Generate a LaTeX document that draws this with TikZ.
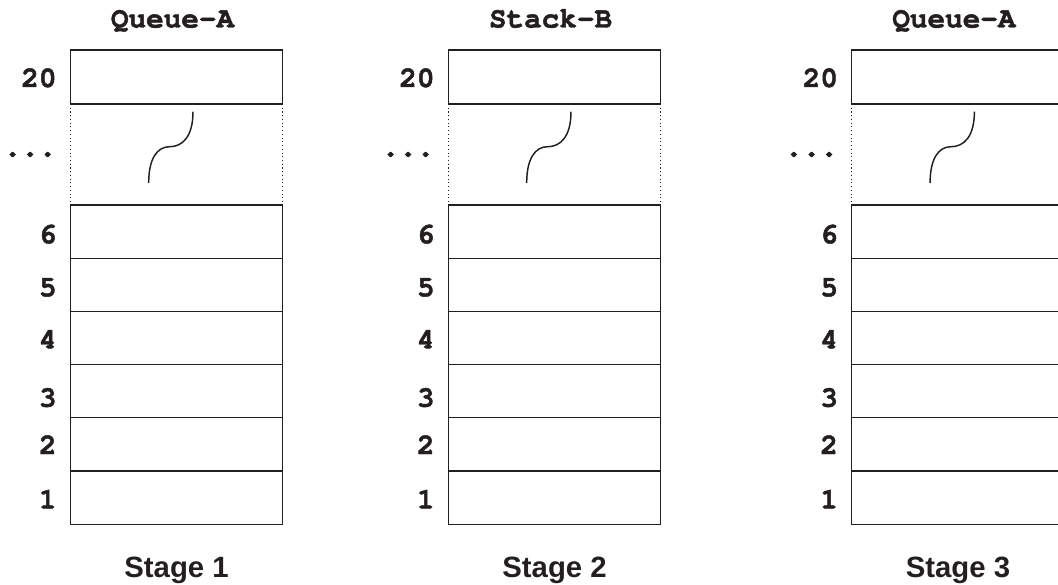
\documentclass[tikz,border=0pt]{standalone}
\usepackage{fontspec}
\setmainfont{Liberation Sans}
\setsansfont{Liberation Sans}
\setmonofont{Liberation Mono}
\newfontfamily\cursorfont[FakeBold=1.6]{TeX Gyre Cursor}
\newfontfamily\cursordotfont[FakeBold=5]{TeX Gyre Cursor}
\newcommand\courierbold{\cursorfont\bfseries\fontsize{22}{22}\selectfont}
\newcommand\courierdots{\cursordotfont\bfseries\fontsize{22}{22}\selectfont}
\definecolor{ink}{RGB}{35,31,32}
\begin{document}
\begin{tikzpicture}[x=0.75pt,y=-0.75pt,
  cell/.style={draw=ink,line width=0.9pt,minimum width=159.4pt,minimum height=39.9pt,inner sep=0pt,outer sep=0pt},
  topcell/.style={draw=ink,line width=0.9pt,minimum width=159.4pt,minimum height=40.5pt,inner sep=0pt,outer sep=0pt},
  gapcell/.style={minimum width=159.4pt,minimum height=75.75pt,inner sep=0pt,outer sep=0pt},
  num/.style={font=\courierbold,text=ink,anchor=base east,inner sep=0pt},
  dotlabel/.style={font=\courierdots,text=ink,anchor=base east,inner sep=0pt},
  title/.style={font=\courierbold,text=ink,anchor=base,inner sep=0pt},
  stage/.style={font=\sffamily\bfseries\fontsize{22}{22}\selectfont,text=ink,anchor=base,inner sep=0pt},
  dots/.style={draw=ink,line width=0.8pt,dotted},
  wave/.style={draw=ink,line width=1.1pt}
]
\useasboundingbox (0,0) rectangle (1058,585);
\clip (0,0) rectangle (1058,585);
\foreach \i/\L/\T/\S in {1/70.3/Queue-A/Stage 1, 2/448.3/Stack-B/Stage 2, 3/851.7/Queue-A/Stage 3}{
  \node[title] (t\i) at ({\L+102.25},27.5) {\T};
  \node[topcell] (c\i top) at ({\L+106.25},77) {};
  \node[num] (n\i top) at ({\L-13.5},87) {20};
  \node[gapcell] (c\i g) at ({\L+106.25},154.5) {};
  \node[dotlabel] (n\i g) at ({\L-13.5},156) {...};
  \foreach \k/\b in {6/243.3,5/296.3,4/348.3,3/406.7,2/454,1/508.5}{
    \node[cell] (c\i r\k) at ({\L+106.25},{205+26.6+(6-\k)*53.2}) {};
    \node[num] (n\i r\k) at ({\L-13.5},\b) {\k};
  }
  \draw[dots] (c\i top.south west) -- (c\i r6.north west);
  \draw[dots] (c\i top.south east) -- (c\i r6.north east);
  \draw[wave,shift={(c\i g.center)}] (-27.85,28.5) .. controls (-27.85,5) and (-20,-7.8) .. (-6.85,-7.8)
     .. controls (6,-7.8) and (16.45,-18) .. (16.45,-42.8);
  \node[stage] (s\i) at ({\L+106.25},577.5) {\S};
}
\end{tikzpicture}
\end{document}
